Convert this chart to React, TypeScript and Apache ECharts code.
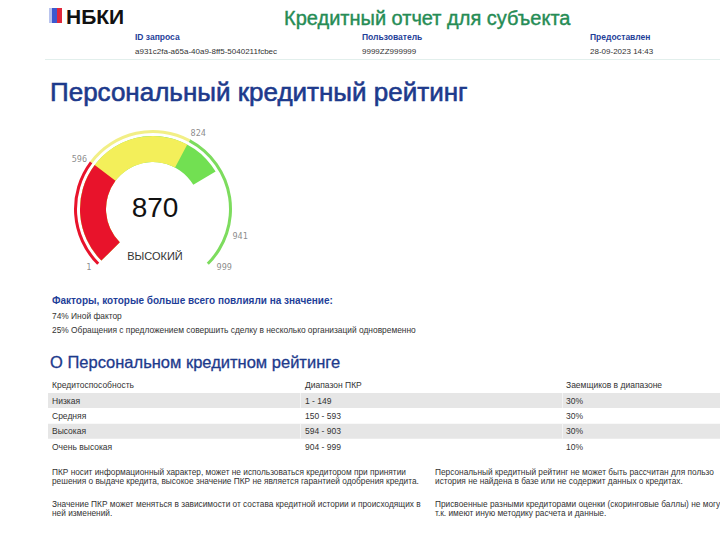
import React, { useEffect, useRef } from 'react';
import * as echarts from 'echarts';

// ---- data ----
const scoreValue = 870;
const scoreGrade = 'ВЫСОКИЙ';
const dialTicks = [1, 596, 824, 941, 999];
// angular position (degrees along the 270° dial) of each tick value
const dialTickSweep = [0, 82, 163, 242, 270];
const bandEdges = [596, 824]; // red | yellow | green

const reportTitle = 'Кредитный отчет для субъекта';
const metaLabels = ['ID запроса', 'Пользователь', 'Предоставлен'];
const metaValues = ['a931c2fa-a65a-40a9-8ff5-5040211fcbec', '9999ZZ999999', '28-09-2023 14:43'];

const factorShares = ['74%', '25%'];
const factorNames = ['Иной фактор', 'Обращения с предложением совершить сделку в несколько организаций одновременно'];

const tableHeaders = ['Кредитоспособность', 'Диапазон ПКР', 'Заемщиков в диапазоне'];
const ratingClasses = ['Низкая', 'Средняя', 'Высокая', 'Очень высокая'];
const ratingRanges = ['1 - 149', '150 - 593', '594 - 903', '904 - 999'];
const borrowerShares = ['30%', '30%', '30%', '10%'];

const notesLeft = [
  ['ПКР носит информационный характер, может не использоваться кредитором при принятии',
   'решения о выдаче кредита, высокое значение ПКР не является гарантией одобрения кредита.'],
  ['Значение ПКР может меняться в зависимости от состава кредитной истории и происходящих в',
   'ней изменений.'],
];
// right column is cropped at the page edge in the reference
const notesRight = [
  ['Персональный кредитный рейтинг не может быть рассчитан для пользо',
   'история не найдена в базе или не содержит данных о кредитах.'],
  ['Присвоенные разными кредиторами оценки (скоринговые баллы) не могу',
   'т.к. имеют иную методику расчета и данные.'],
];

// ---- styles ----
const FONT = '"Liberation Sans", Arial, sans-serif';
const RED = '#e8132b';
const YELLOW = '#f3ef5a';
const GREEN = '#72e052';
const RING_YELLOW = '#f2ef86';
const RING_GREEN = '#7ddc5e';
const BLUE = '#1f3f99';
const DARK_BLUE = '#1d3a8c';
const TEXT = '#333333';
const CENTER = [153, 209];
const SWEEP = 270;

const tickLabelPlacement: any[] = [
  { position: 'left', distance: 5, offset: [0, 1] },
  { position: 'left', distance: 2, offset: [0, -2] },
  { position: 'right', distance: 0, offset: [0, -5] },
  { position: 'right', distance: 3, offset: [0, 4] },
  { position: 'right', distance: 7, offset: [0, 1] },
];

function dialPos(v: number): number {
  for (let i = 0; i < dialTicks.length - 1; i++) {
    const a = dialTicks[i], b = dialTicks[i + 1];
    if (v <= b) {
      return dialTickSweep[i] + ((v - a) / (b - a)) * (dialTickSweep[i + 1] - dialTickSweep[i]);
    }
  }
  return dialTickSweep[dialTickSweep.length - 1];
}

function txt(text: string, x: number, y: number, size: number, fill: string, weight: any = 'normal', extra: any = {}) {
  return {
    type: 'text',
    silent: true,
    style: { text, x, y, fontSize: size, fontFamily: FONT, fontWeight: weight, fill, align: 'left', verticalAlign: 'middle', ...extra },
  };
}

const hidden = {
  splitLine: { show: false },
  axisTick: { show: false },
  axisLabel: { show: false },
  pointer: { show: false },
  anchor: { show: false },
};

function bandGauge(value: number, color: string, withText: boolean): any {
  return {
    type: 'gauge',
    center: CENTER,
    radius: 73,
    startAngle: 225,
    endAngle: -45,
    min: 0,
    max: SWEEP,
    ...hidden,
    axisLine: { show: false },
    progress: { show: true, width: 26, roundCap: false, itemStyle: { color } },
    title: withText
      ? { show: true, offsetCenter: [2, 47], fontSize: 11, color: TEXT, fontFamily: FONT }
      : { show: false },
    detail: withText
      ? {
          show: true,
          offsetCenter: [2, -2],
          fontSize: 28,
          fontWeight: 'normal',
          color: '#111',
          fontFamily: FONT,
          valueAnimation: false,
          formatter: () => String(scoreValue),
        }
      : { show: false },
    data: [{ value: value, name: withText ? scoreGrade : '' }],
  };
}

export default function App() {
  const ref = useRef<HTMLDivElement>(null);
  useEffect(() => {
    if (!ref.current) return;
    const chart = echarts.init(ref.current, null, { renderer: 'svg' });

    const graphics: any[] = [];
    // header logo
    graphics.push({ type: 'rect', silent: true, shape: { x: 49, y: 8, width: 3, height: 15 }, style: { fill: '#b9c4ee' } });
    graphics.push({ type: 'rect', silent: true, shape: { x: 52, y: 8, width: 5, height: 15 }, style: { fill: '#3d59cf' } });
    graphics.push({ type: 'rect', silent: true, shape: { x: 57, y: 8, width: 5, height: 15 }, style: { fill: '#e0283c' } });
    graphics.push(txt('НБКИ', 66, 16, 21, '#111', 'bold'));
    graphics.push(txt(reportTitle, 284, 18, 20, '#268c55', 'normal', { stroke: '#268c55', lineWidth: 0.4 }));
    const metaX = [135, 362, 590];
    metaLabels.forEach((l, i) => {
      graphics.push(txt(l, metaX[i], 37, 8.5, BLUE, 'bold'));
      graphics.push(txt(metaValues[i], metaX[i], 51, 8, TEXT));
    });
    graphics.push({ type: 'line', silent: true, shape: { x1: 45, y1: 59.5, x2: 720, y2: 59.5 }, style: { stroke: '#e2efec', lineWidth: 1 } });

    graphics.push(txt('Персональный кредитный рейтинг', 50, 92, 26, DARK_BLUE, 'normal', { stroke: DARK_BLUE, lineWidth: 0.6 }));

    // factors
    graphics.push(txt('Факторы, которые больше всего повлияли на значение:', 52, 300, 10, BLUE, 'bold'));
    factorShares.forEach((s, i) => {
      graphics.push(txt(s + ' ' + factorNames[i], 52, 316 + i * 14, 8.4, TEXT));
    });

    graphics.push(txt('О Персональном кредитном рейтинге', 50, 362, 16.5, DARK_BLUE, 'normal', { stroke: DARK_BLUE, lineWidth: 0.3 }));

    // table
    const colX = [52, 305, 566];
    tableHeaders.forEach((h, i) => graphics.push(txt(h, colX[i], 385, 8.5, TEXT)));
    ratingClasses.forEach((c, r) => {
      const cy = 400.5 + r * 15.4;
      if (r % 2 === 0) {
        graphics.push({ type: 'rect', silent: true, shape: { x: 48, y: cy - 7.5, width: 672, height: 15 }, style: { fill: '#e6e6e6' } });
        [300, 562].forEach((gx) =>
          graphics.push({ type: 'rect', silent: true, shape: { x: gx, y: cy - 7.5, width: 1, height: 15 }, style: { fill: '#f4f4f4' } })
        );
      }
      graphics.push(txt(c, colX[0], cy, 8.5, TEXT));
      graphics.push(txt(ratingRanges[r], colX[1], cy, 8.5, TEXT));
      graphics.push(txt(borrowerShares[r], colX[2], cy, 8.5, TEXT));
    });

    // notes
    const noteY = [472, 504];
    notesLeft.forEach((p, pi) => p.forEach((line, li) => graphics.push(txt(line, 52, noteY[pi] + li * 9, 8.3, TEXT))));
    notesRight.forEach((p, pi) => p.forEach((line, li) => graphics.push(txt(line, 435, noteY[pi] + li * 9, 8.3, TEXT))));

    const ringStops: any[] = [
      [dialPos(bandEdges[0]) / SWEEP, RED],
      [dialPos(bandEdges[1]) / SWEEP, RING_YELLOW],
      [1, RING_GREEN],
    ];

    const option: any = {
      animation: false,
      backgroundColor: '#ffffff',
      polar: { center: CENTER, radius: 80 },
      angleAxis: {
        type: 'value', min: 0, max: 360, startAngle: 225, clockwise: true,
        show: false, axisLine: { show: false }, splitLine: { show: false }, axisTick: { show: false }, axisLabel: { show: false },
      },
      radiusAxis: {
        type: 'value', min: 0, max: 80,
        show: false, axisLine: { show: false }, splitLine: { show: false }, axisTick: { show: false }, axisLabel: { show: false },
      },
      graphic: { elements: graphics },
      series: [
        // thin outer ring
        {
          type: 'gauge',
          center: CENTER,
          radius: 79,
          startAngle: 225,
          endAngle: -45,
          min: 0,
          max: SWEEP,
          ...hidden,
          axisLine: { show: true, lineStyle: { width: 3, color: ringStops } },
          title: { show: false },
          detail: { show: false },
          data: [],
        },
        bandGauge(dialPos(scoreValue), GREEN, true),
        bandGauge(dialPos(bandEdges[1]), YELLOW, false),
        bandGauge(dialPos(bandEdges[0]), RED, false),
        // tick labels
        {
          type: 'scatter',
          coordinateSystem: 'polar',
          symbolSize: 0,
          silent: true,
          data: dialTicks.map((v, i) => ({
            name: String(v),
            value: [80, dialPos(v)],
            label: { show: true, formatter: '{b}', ...tickLabelPlacement[i] },
          })),
          label: { color: '#6e6e6e', fontSize: 8.5, fontFamily: '"DejaVu Sans Mono", monospace' },
        },
      ],
    };
    chart.setOption(option);
    return () => chart.dispose();
  }, []);
  return (
    <div
      ref={ref}
      style={{ position: 'absolute', left: 0, top: 0, width: 720, height: 539, background: '#fff' }}
    />
  );
}
